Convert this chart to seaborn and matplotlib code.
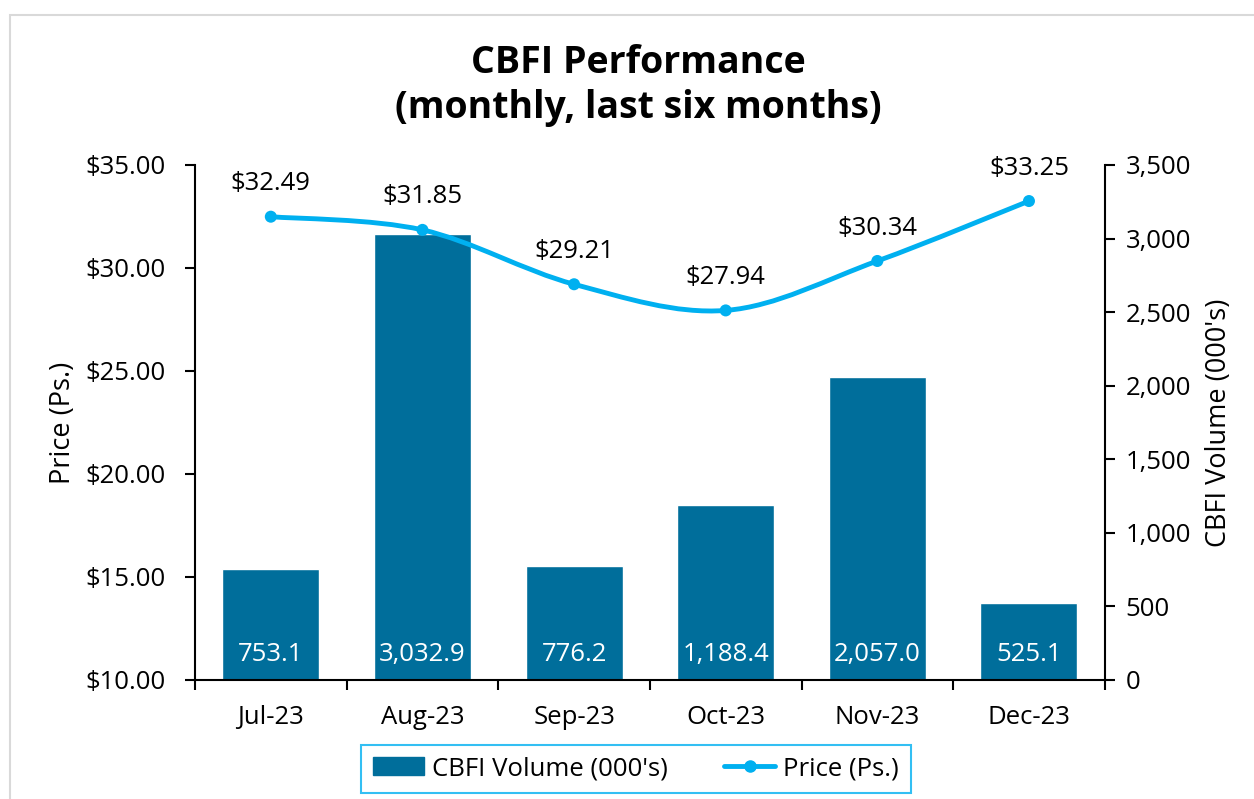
import numpy as np
import pandas as pd
import matplotlib
matplotlib.use("Agg")
import matplotlib.pyplot as plt
import seaborn as sns
from matplotlib.path import Path
from matplotlib.patches import PathPatch, Rectangle
from matplotlib.ticker import FuncFormatter, FixedLocator

months = ["Jul-23", "Aug-23", "Sep-23", "Oct-23", "Nov-23", "Dec-23"]
volume = [753.1, 3032.9, 776.2, 1188.4, 2057.0, 525.1]
price = [32.49, 31.85, 29.21, 27.94, 30.34, 33.25]

bar_color = "#006E9B"
line_color = "#00B0F0"
fs = 18.5

sns.set_theme(style="white")
plt.rcParams["font.family"] = ["Open Sans", "DejaVu Sans"]
plt.rcParams["text.color"] = "black"
plt.rcParams["xtick.color"] = "black"
plt.rcParams["ytick.color"] = "black"
plt.rcParams["axes.labelcolor"] = "black"

df = pd.DataFrame({"Month": months, "Volume": volume, "Price": price})

fig = plt.figure(figsize=(12.54, 7.99), dpi=100)
ax_p = fig.add_axes([0.1555, 0.149, 0.7255, 0.6445])
ax_v = ax_p.twinx()
# price axis in front of bars
ax_p.set_zorder(2)
ax_p.patch.set_visible(False)

sns.barplot(data=df, x="Month", y="Volume", color=bar_color, width=0.64,
            saturation=1, ax=ax_v)
for i, v in enumerate(volume):
    ax_v.text(i, 170, f"{v:,.1f}", ha="center", va="center", color="white", fontsize=fs)

# smooth line (Excel-style curve) built from the data points
x = np.arange(len(price))
y = np.array(price)
verts = [(x[0], y[0])]
codes = [Path.MOVETO]
t = 1 / 6
for i in range(len(x) - 1):
    p0 = (x[max(i - 1, 0)], y[max(i - 1, 0)])
    p1 = (x[i], y[i])
    p2 = (x[i + 1], y[i + 1])
    p3 = (x[min(i + 2, len(x) - 1)], y[min(i + 2, len(x) - 1)])
    c1 = (p1[0] + (p2[0] - p0[0]) * t, p1[1] + (p2[1] - p0[1]) * t)
    c2 = (p2[0] - (p3[0] - p1[0]) * t, p2[1] - (p3[1] - p1[1]) * t)
    verts += [c1, c2, p2]
    codes += [Path.CURVE4] * 3
ax_p.add_patch(PathPatch(Path(verts, codes), fill=False, edgecolor=line_color, lw=3.5,
                         capstyle="round", zorder=3))
sns.scatterplot(data=df, x="Month", y="Price", color=line_color, s=75, edgecolor="none",
                ax=ax_p, zorder=4)
for i, p in enumerate(price):
    ax_p.text(i, p + 1.6, f"${p:.2f}", ha="center", va="center", fontsize=fs)

ax_p.set_ylim(10, 35)
ax_v.set_ylim(0, 3500)
ax_p.set_xlim(-0.5, 5.5)
ax_p.set_yticks([10, 15, 20, 25, 30, 35])
ax_p.yaxis.set_major_formatter(FuncFormatter(lambda v, _: f"${v:.2f}"))
ax_v.set_yticks(range(0, 3501, 500))
ax_v.yaxis.set_major_formatter(FuncFormatter(lambda v, _: f"{v:,.0f}"))

ax_p.xaxis.set_major_locator(FixedLocator(np.arange(-0.5, 6, 1)))
ax_p.set_xticklabels([])
ax_p.xaxis.set_minor_locator(FixedLocator(np.arange(0, 6)))
ax_p.set_xticklabels(months, minor=True)
ax_p.tick_params(axis="x", which="major", length=7, width=1.5, direction="out", bottom=True)
ax_p.tick_params(axis="x", which="minor", length=0, pad=18, labelsize=fs)
ax_p.tick_params(axis="y", length=7, width=1.5, direction="out", left=True, labelsize=fs, pad=14)
ax_v.tick_params(axis="y", length=7, width=1.5, direction="out", right=True, labelsize=fs, pad=8)
ax_v.set_xlabel("")
ax_p.set_xlabel("")
ax_p.set_ylabel("Price (Ps.)", fontsize=fs + 1, labelpad=6)
ax_v.set_ylabel("CBFI Volume (000's)", fontsize=fs + 1, labelpad=10)

for a in (ax_p, ax_v):
    a.spines["top"].set_visible(False)
    for s in ("left", "right", "bottom"):
        a.spines[s].set_color("black")
        a.spines[s].set_linewidth(1.5)
ax_p.spines["right"].set_visible(False)
ax_v.spines["left"].set_visible(False)
ax_v.spines["bottom"].set_visible(False)

fig.text(0.509, 0.893, "CBFI Performance\n(monthly, last six months)", ha="center", va="center",
         fontsize=27, fontweight="bold", linespacing=1.25)

handles = [plt.Rectangle((0, 0), 1, 1, color=bar_color),
           plt.Line2D([], [], color=line_color, lw=3.5, marker="o", markersize=8)]
leg = fig.legend(handles, ["CBFI Volume (000's)", "Price (Ps.)"], loc="center",
                 bbox_to_anchor=(0.507, 0.038), ncol=2, fontsize=fs, frameon=True,
                 fancybox=False, edgecolor=line_color, handlelength=2.0, columnspacing=2.2,
                 handletextpad=0.3, borderpad=0.45, borderaxespad=0)
leg.get_frame().set_linewidth(1.5)

fig.patches.append(Rectangle((0.008, -0.05), 1.1, 1.031, transform=fig.transFigure,
                             fill=False, edgecolor="#D9D9D9", lw=1.5))

fig.savefig("out.png", dpi=100)
